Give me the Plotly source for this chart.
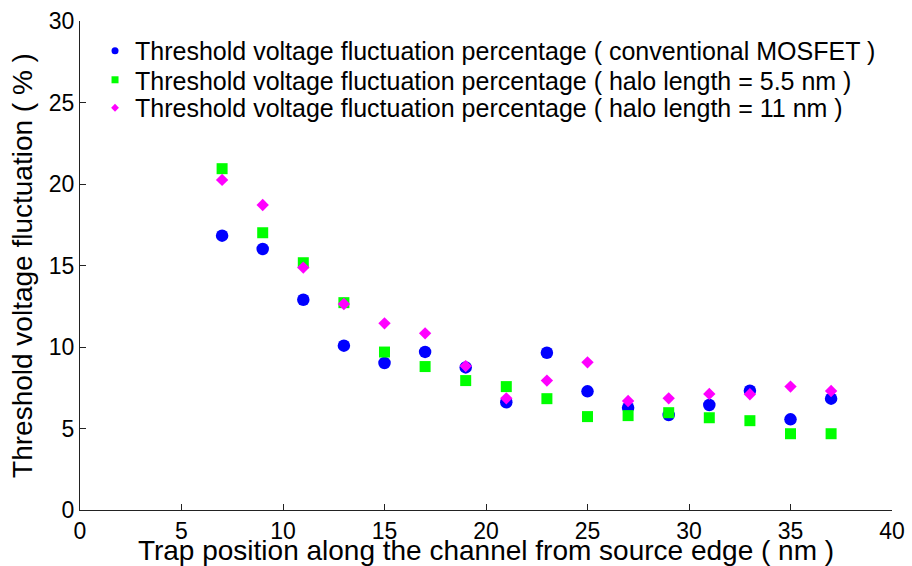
import plotly.graph_objects as go

x_pos = [7, 9, 11, 13, 15, 17, 19, 21, 23, 25, 27, 29, 31, 33, 35, 37]
conv = [16.83, 16.01, 12.9, 10.08, 9.02, 9.7, 8.75, 6.61, 9.65, 7.28, 6.28, 5.83, 6.44, 7.32, 5.56, 6.83]
halo55 = [20.94, 17.01, 15.17, 12.72, 9.69, 8.8, 7.94, 7.57, 6.83, 5.73, 5.79, 5.97, 5.66, 5.48, 4.68, 4.68]
halo11 = [20.25, 18.71, 14.87, 12.64, 11.45, 10.84, 8.83, 6.85, 7.94, 9.06, 6.69, 6.85, 7.12, 7.10, 7.57, 7.30]

names = [
    "Threshold voltage fluctuation percentage ( conventional MOSFET )",
    "Threshold voltage fluctuation percentage ( halo length = 5.5 nm )",
    "Threshold voltage fluctuation percentage ( halo length = 11 nm )",
]
colors = ["#0000ff", "#00ff00", "#ff00ff"]
symbols = ["circle", "square", "diamond"]
sizes = [12.5, 11, 9.5]
legend_sizes = [7, 7, 6]
series = [conv, halo55, halo11]
legend_ids = ["legend", "legend2", "legend3"]
legend_y = [0.9387, 0.8793, 0.8221]

fig = go.Figure()
for ys, c, s, sz in zip(series, colors, symbols, sizes):
    fig.add_trace(go.Scatter(x=x_pos, y=ys, mode="markers", showlegend=False,
                             marker=dict(color=c, symbol=s, size=sz, line=dict(width=0))))
for c, s, sz, nm, lid in zip(colors, symbols, legend_sizes, names, legend_ids):
    fig.add_trace(go.Scatter(x=[None], y=[None], mode="markers", name=nm, legend=lid,
                             marker=dict(color=c, symbol=s, size=sz, line=dict(width=0))))

font = "Liberation Sans, Arial, sans-serif"
leg_common = dict(x=0.0185, xanchor="left", yanchor="middle",
                  bgcolor="rgba(0,0,0,0)", font=dict(size=25), itemsizing="trace")
layout_legends = {lid: dict(leg_common, y=ly) for lid, ly in zip(legend_ids, legend_y)}

fig.update_layout(
    width=912, height=566,
    margin=dict(l=80, r=20, t=21, b=56),
    paper_bgcolor="white", plot_bgcolor="white",
    font=dict(family=font, color="black", size=23),
    **layout_legends,
    xaxis=dict(range=[0, 40], tickvals=[0, 5, 10, 15, 20, 25, 30, 35, 40],
               showgrid=False, zeroline=False, showline=True, linecolor="#222",
               linewidth=1, ticks="inside", ticklen=6, tickcolor="#222",
               tickfont=dict(size=23), automargin=False,
               title=dict(text="Trap position along the channel from source edge ( nm )",
                          font=dict(size=28), standoff=0)),
    yaxis=dict(range=[0, 30], tickvals=[0, 5, 10, 15, 20, 25, 30],
               showgrid=False, zeroline=False, showline=True, linecolor="#222",
               linewidth=1, ticks="inside", ticklen=6, tickcolor="#222",
               tickfont=dict(size=23), automargin=False,
               title=dict(text="Threshold voltage fluctuation ( % )",
                          font=dict(size=28), standoff=8)),
)
fig.write_html("out.html")
